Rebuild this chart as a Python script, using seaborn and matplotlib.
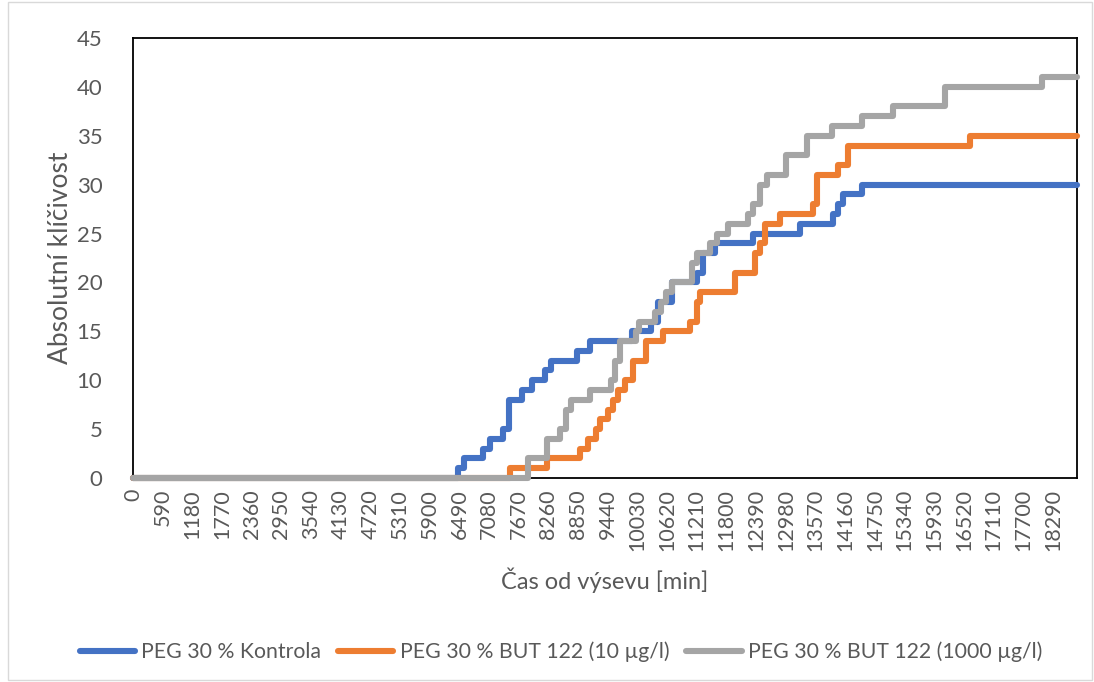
import numpy as np
import pandas as pd
import matplotlib
matplotlib.use("Agg")
import matplotlib.pyplot as plt
import seaborn as sns
from matplotlib.patches import Rectangle
from matplotlib.lines import Line2D

# ---- data (minutes, cumulative germinated count) ----
series_names = ["PEG 30 % Kontrola", "PEG 30 % BUT 122 (10 µg/l)", "PEG 30 % BUT 122 (1000 µg/l)"]
end_time = 18770

kontrola_t = [0, 6470, 6590, 6950, 7090, 7350, 7470, 7730, 7940, 8200, 8320, 8820, 9080,
              9920, 10290, 10430, 10710, 11210, 11330, 11570, 12320, 13260, 13920, 14020,
              14120, 14490, 18770]
kontrola_v = [0, 1, 2, 3, 4, 5, 8, 9, 10, 11, 12, 13, 14,
              15, 16, 18, 20, 21, 23, 24, 25, 26, 27, 28,
              29, 30, 30]

but10_t = [0, 7490, 8240, 8880, 9040, 9200, 9280, 9440, 9540, 9640, 9780, 9940, 10210,
           10530, 11070, 11210, 11270, 11970, 12360, 12460, 12560, 12860, 13520, 13600,
           14020, 14220, 16640, 18770]
but10_v = [0, 1, 2, 3, 4, 5, 6, 7, 8, 9, 10, 12, 14,
           15, 16, 18, 19, 21, 23, 24, 26, 27, 28, 31,
           32, 34, 35, 35]

but1000_t = [0, 7860, 8240, 8500, 8600, 8700, 9080, 9500, 9580, 9680, 10000, 10070, 10370,
             10490, 10590, 10710, 11110, 11210, 11470, 11610, 11830, 12220, 12320, 12460,
             12600, 12980, 13400, 13900, 14490, 15110, 16150, 18080, 18770]
but1000_v = [0, 2, 4, 5, 7, 8, 9, 10, 12, 14, 15, 16, 17,
             18, 19, 20, 22, 23, 24, 25, 26, 27, 28, 30,
             31, 33, 35, 36, 37, 38, 40, 41, 41]

colors = ["#4472C4", "#ED7D31", "#A5A5A5"]

frames = []
for name, t, v in zip(series_names, [kontrola_t, but10_t, but1000_t],
                      [kontrola_v, but10_v, but1000_v]):
    frames.append(pd.DataFrame({"t": t, "v": v, "s": name}))
df = pd.concat(frames, ignore_index=True)

sns.set_theme(style="white")
plt.rcParams["font.family"] = ["Lato", "DejaVu Sans"]

fig = plt.figure(figsize=(10.94, 6.82), dpi=100)
ax = fig.add_axes([133/1094, 1-478/682, (1077-133)/1094, (478-38)/682])

sns.lineplot(data=df, x="t", y="v", hue="s", palette=colors, ax=ax,
             drawstyle="steps-post", linewidth=4.4, estimator=None, sort=False,
             legend=False)
for ln in ax.lines:
    ln.set_solid_capstyle("round")
    ln.set_solid_joinstyle("round")
    ln.set_clip_on(False)
    ln.set_zorder(5)

ax.set_xlim(0, end_time)
ax.set_ylim(0, 45)
ax.set_yticks(np.arange(0, 46, 5))
xt = np.arange(0, 18291, 590)
ax.set_xticks(xt)
ax.set_xticklabels([str(x) for x in xt], rotation=90, fontsize=15.5, color="#595959")
ax.tick_params(axis="y", labelsize=16, colors="#595959", length=0, pad=22)
ax.tick_params(axis="x", length=0, pad=8)
for sp in ax.spines.values():
    sp.set_color("black")
    sp.set_linewidth(1.3)
    sp.set_visible(True)

ax.set_xlabel("Čas od výsevu [min]", fontsize=17, color="#595959")
ax.set_ylabel("Absolutní klíčivost", fontsize=19, color="#595959")
ax.yaxis.set_label_coords(-0.0636, 0.5)
ax.xaxis.set_label_coords(0.5, -0.2045)

handles = [Line2D([0], [0], color=c, lw=4.4, solid_capstyle="round") for c in colors]
leg = fig.legend(handles, series_names, loc="center", bbox_to_anchor=(561/1094, 1-652/682),
                 ncol=3, frameon=False, fontsize=15.3, handlelength=2.6,
                 handletextpad=0.3, columnspacing=0.8)
for txt in leg.get_texts():
    txt.set_color("#595959")

fig.patches.append(Rectangle((8/1094, 0.003), (1092-8)/1094, 0.994, transform=fig.transFigure,
                             fill=False, edgecolor="#D9D9D9", linewidth=1.0))

fig.savefig("out.png", dpi=100)
